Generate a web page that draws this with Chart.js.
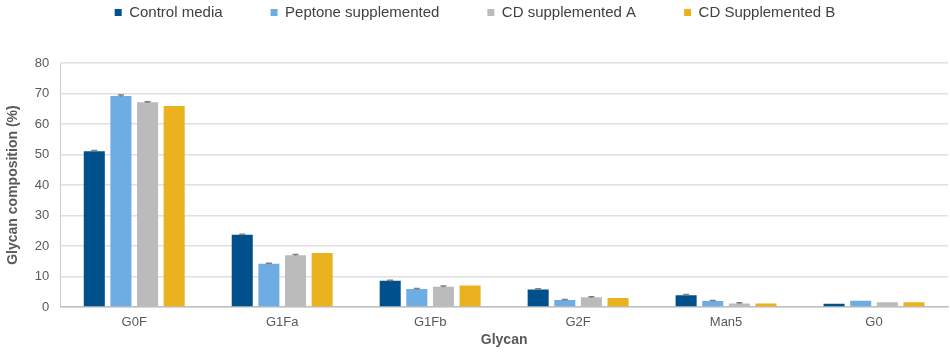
<!DOCTYPE html>
<html><head><meta charset="utf-8">
<script src="https://cdn.jsdelivr.net/npm/chart.js@4"></script>
<style>html,body{margin:0;padding:0;background:#fff}#w{width:950px;height:352px}</style>
</head><body><div id="w"><canvas id="c"></canvas></div>
<script>
const categories = ["G0F","G1Fa","G1Fb","G2F","Man5","G0"];
const seriesNames = ["Control media","Peptone supplemented","CD supplemented A","CD Supplemented B"];
const controlMedia = [51.1, 23.7, 8.6, 5.8, 3.9, 1.1];
const peptoneSupp = [69.2, 14.2, 5.9, 2.3, 2.0, 2.1];
const cdSuppA = [67.1, 17.0, 6.7, 3.2, 1.2, 1.6];
const cdSuppB = [65.9, 17.7, 7.1, 3.0, 1.2, 1.6];
const controlErr = [0.2, 0.2, 0.2, 0.2, 0.2, 0];
const peptoneErr = [0.3, 0.2, 0.2, 0.2, 0.2, 0];
const cdAErr = [0.2, 0.2, 0.2, 0.2, 0.2, 0];
const cdBErr = [0, 0, 0, 0, 0, 0];
const yTicks = [0,10,20,30,40,50,60,70,80];
const colors = ["#00508C","#6EADE4","#BBBBBB","#EAB21F"];

const errs = [controlErr, peptoneErr, cdAErr, cdBErr];
const errPlugin = {
  id: 'errbars',
  afterDatasetsDraw(chart) {
    const ctx = chart.ctx, ys = chart.scales.y;
    ctx.save();
    ctx.strokeStyle = '#7F7F7F';
    ctx.lineWidth = 1.5;
    chart.data.datasets.forEach((ds, i) => {
      const meta = chart.getDatasetMeta(i);
      meta.data.forEach((bar, j) => {
        const e = errs[i][j];
        if (!e) return;
        const v = ds.data[j];
        const y1 = ys.getPixelForValue(v + e), y0 = ys.getPixelForValue(v - e);
        ctx.beginPath();
        ctx.moveTo(bar.x, y0); ctx.lineTo(bar.x, y1);
        ctx.moveTo(bar.x - 3, y1); ctx.lineTo(bar.x + 3, y1);
        ctx.stroke();
      });
    });
    ctx.restore();
  }
};
const legendGap = {
  id: 'legendGap',
  beforeInit(chart) {
    const fit = chart.legend.fit;
    chart.legend.fit = function () { fit.call(this); this.height += 33; };
  }
};

Chart.defaults.font.family = "'Liberation Sans', Arial, sans-serif";
new Chart(document.getElementById('c'), {
  type: 'bar',
  data: {
    labels: categories,
    datasets: [controlMedia, peptoneSupp, cdSuppA, cdSuppB].map((d, i) => ({
      label: seriesNames[i], data: d, backgroundColor: colors[i],
      categoryPercentage: 0.72, barPercentage: 0.79
    }))
  },
  options: {
    responsive: true, maintainAspectRatio: false, animation: false,
    layout: { padding: { top: -43, right: 2, left: 2, bottom: 1.5 } },
    plugins: {
      legend: {
        position: 'top',
        labels: { boxWidth: 7, boxHeight: 7, color: '#404040', font: { size: 15 }, padding: 48 }
      },
      tooltip: { enabled: false }
    },
    scales: {
      x: {
        grid: { display: false, drawTicks: false },
        border: { color: '#BFBFBF', width: 1.5 },
        ticks: { color: '#595959', font: { size: 13 }, padding: 8 },
        title: { display: true, text: 'Glycan', color: '#595959', font: { size: 14, weight: 'bold' }, padding: { top: -7, bottom: 2 } }
      },
      y: {
        min: 0, max: 80,
        afterBuildTicks(ax) { ax.ticks = yTicks.map(v => ({ value: v })); },
        grid: { color: '#E0E0E0', lineWidth: 1.5, drawTicks: false },
        border: { display: true, color: '#D0D0D0' },
        ticks: { color: '#595959', font: { size: 13 }, padding: 11 },
        title: { display: true, text: 'Glycan composition (%)', color: '#595959', font: { size: 14, weight: 'bold' }, padding: { top: 3, bottom: 2 } }
      }
    }
  },
  plugins: [errPlugin, legendGap]
});
</script></body></html>
